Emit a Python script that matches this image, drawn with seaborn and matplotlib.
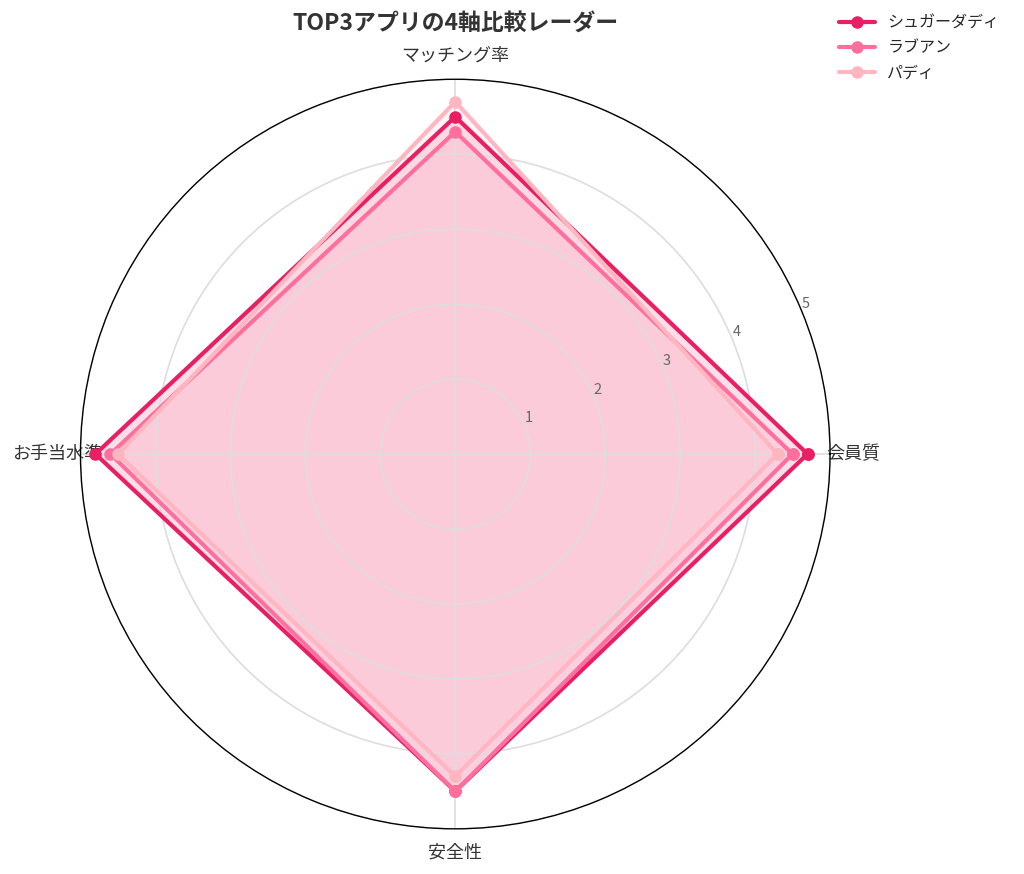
import numpy as np
import pandas as pd
import matplotlib
matplotlib.use("Agg")
import matplotlib.pyplot as plt
import seaborn as sns

# data
axes_labels = ["会員質", "マッチング率", "お手当水準", "安全性"]
apps = ["シュガーダディ", "ラブアン", "パディ"]
sugardaddy = [4.7, 4.5, 4.8, 4.5]
loveun = [4.5, 4.3, 4.6, 4.5]
paddy = [4.3, 4.7, 4.5, 4.3]
r_ticks = [1, 2, 3, 4, 5]

colors = ["#E91E63", "#FF6F9E", "#FFB6C1"]

sns.set_theme(style="white")
plt.rcParams["font.family"] = ["Noto Sans CJK JP", "DejaVu Sans"]

fig = plt.figure(figsize=(10.24, 8.74), dpi=100)
ax = fig.add_axes([0.0786, 0.0515, 0.732, 0.858], projection="polar")

angles = np.arange(len(axes_labels)) * 2 * np.pi / len(axes_labels)
closed = np.append(angles, angles[0])

for name, vals, col in zip(apps, [sugardaddy, loveun, paddy], colors):
    v = np.append(vals, vals[0])
    ax.fill(closed, v, color=col, alpha=0.14, zorder=1)
    ax.plot(closed, v, color=col, lw=3, marker="o", markersize=8,
            label=name, zorder=3)

ax.set_ylim(0, 5)
ax.set_yticks(r_ticks)
ax.set_yticklabels([str(t) for t in r_ticks], color="#666666", fontsize=10.5)
ax.set_rlabel_position(22.5)
ax.set_xticks(angles)
ax.set_xticklabels(axes_labels, fontsize=13, color="#333333")
ax.tick_params(axis="x", pad=4)
ax.set_axisbelow(False)
ax.grid(color="#dddddd", lw=1.2, zorder=2)
ax.spines["polar"].set_color("black")
ax.spines["polar"].set_linewidth(1)
ax.spines["polar"].set_zorder(6)

fig.text(0.445, 0.974, "TOP3アプリの4軸比較レーダー", ha="center", va="center",
         fontsize=16.5, fontweight="bold", color="#333333")

fig.legend(loc="upper right", bbox_to_anchor=(0.99, 1.0), frameon=False,
           fontsize=11.5, handlelength=2.2)

fig.savefig("out.png", dpi=100)
